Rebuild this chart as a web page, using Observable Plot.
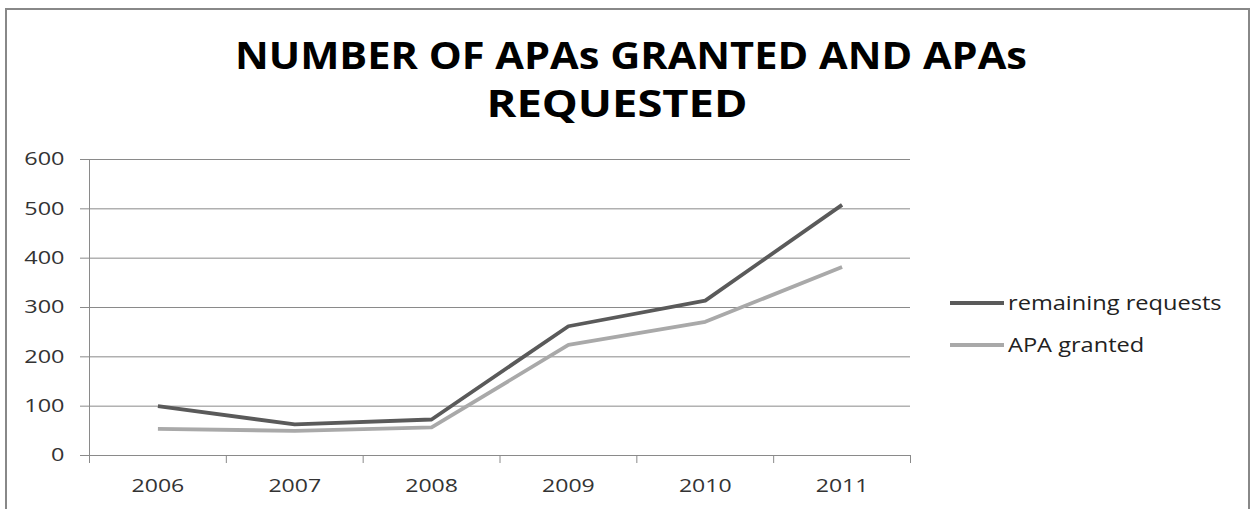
<!DOCTYPE html>
<html>
<head>
<meta charset="utf-8">
<script src="https://cdn.jsdelivr.net/npm/d3@7"></script>
<script src="https://cdn.jsdelivr.net/npm/@observablehq/plot@0.6"></script>
<style>
  body { margin: 0; background: #fff; }
  #frame { position: relative; width: 1256px; height: 509px; overflow: hidden; background: #fff; }
  #border { position: absolute; left: 5px; top: 8px; width: 1245px; height: 620px; border: 2px solid #888; box-sizing: border-box; }
  #chart, #overlay { position: absolute; left: 0; top: 0; }
  svg text { font-family: "Open Sans", "Noto Sans", sans-serif; }
</style>
</head>
<body>
<div id="frame">
  <div id="border"></div>
  <div id="chart"></div>
  <svg id="overlay" width="1256" height="509"></svg>
</div>
<script>
// Chart data
const years = [2006, 2007, 2008, 2009, 2010, 2011];
const remainingRequests = [100, 63, 73, 262, 314, 508];
const apaGranted = [54, 50, 57, 224, 271, 382];
const seriesNames = ["remaining requests", "APA granted"];
const seriesColors = ["#5a5a5a", "#a9a9a9"];
const yTicks = [0, 100, 200, 300, 400, 500, 600];
const titleLines = ["NUMBER OF APAs GRANTED AND APAs", "REQUESTED"];

const rows = [
  ...years.map((year, i) => ({year, value: remainingRequests[i], series: seriesNames[0]})),
  ...years.map((year, i) => ({year, value: apaGranted[i], series: seriesNames[1]}))
];
// category boundaries for the x-axis tick marks
const boundaries = d3.range(years.length + 1).map(i => years[0] - 0.5 + i);

const grid = "#8a8a8a";

const chart = Plot.plot({
  width: 1256,
  height: 509,
  marginLeft: 89,
  marginRight: 346,
  marginTop: 159,
  marginBottom: 54,
  style: {fontFamily: "'Open Sans', sans-serif", background: "transparent"},
  x: {domain: [years[0] - 0.5, years[years.length - 1] + 0.5], label: null},
  y: {domain: [0, 600], label: null},
  color: {domain: seriesNames, range: seriesColors},
  marks: [
    Plot.gridY(yTicks, {stroke: grid, strokeOpacity: 1, strokeWidth: 1}),
    Plot.ruleX([years[0] - 0.5], {stroke: grid, strokeWidth: 1}),
    Plot.axisY(yTicks, {tickSize: 9, tickPadding: 16, stroke: grid, fill: "#333", fontSize: 18, tickFormat: d => String(d), label: null}),
    Plot.axisX(boundaries, {tickSize: 8, tickFormat: () => "", stroke: grid, label: null}),
    Plot.axisX(years, {tickSize: 0, tickPadding: 24, fill: "#333", fontSize: 18, tickFormat: d => String(d), label: null}),
    Plot.line(rows, {x: "year", y: "value", z: "series", stroke: "series", strokeWidth: 3.8, strokeLinejoin: "round", strokeLinecap: "butt"})
  ]
});
document.getElementById("chart").append(chart);

// Stretch text horizontally to the drawn widths
function stretch(nodes, factor) {
  nodes.forEach(t => {
    const w = t.getComputedTextLength();
    if (w > 0) {
      t.setAttribute("textLength", (w * factor).toFixed(1));
      t.setAttribute("lengthAdjust", "spacingAndGlyphs");
    }
  });
}
const svg = d3.select(chart.tagName === "svg" ? chart : chart.querySelector("svg"));
stretch(svg.selectAll('[aria-label="y-axis tick label"] text').nodes(), 1.3);
stretch(svg.selectAll('[aria-label="x-axis tick label"] text').nodes(), 1.28);

// Title and legend
const overlay = d3.select("#overlay");
const titleLayout = [{cx: 631, y: 69, w: 792}, {cx: 617, y: 117, w: 261}];
titleLines.forEach((line, i) => {
  overlay.append("text")
    .attr("x", titleLayout[i].cx)
    .attr("y", titleLayout[i].y)
    .attr("text-anchor", "middle")
    .attr("font-size", 37)
    .attr("font-weight", 700)
    .attr("fill", "#000")
    .attr("textLength", titleLayout[i].w)
    .attr("lengthAdjust", "spacingAndGlyphs")
    .text(line);
});

const legend = overlay.append("g");
seriesNames.forEach((name, i) => {
  const cy = 303 + i * 42;
  legend.append("line")
    .attr("x1", 950).attr("x2", 1004)
    .attr("y1", cy).attr("y2", cy)
    .attr("stroke", seriesColors[i]).attr("stroke-width", 4);
  legend.append("text")
    .attr("x", 1008).attr("y", cy + 7)
    .attr("font-size", 20)
    .attr("fill", "#222")
    .text(name);
});
stretch(legend.selectAll("text").nodes(), 1.18);
</script>
</body>
</html>
